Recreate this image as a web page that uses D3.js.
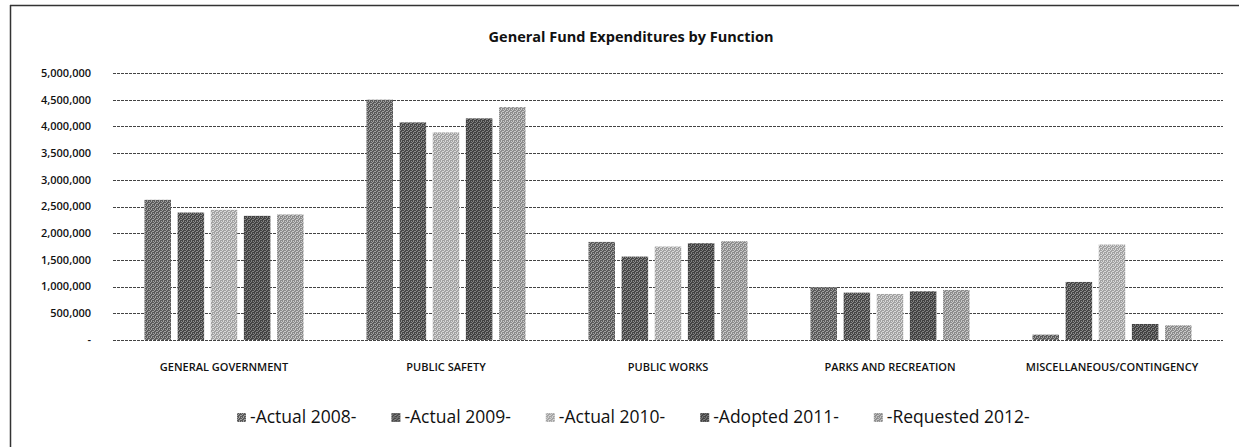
<!DOCTYPE html>
<html>
<head>
<meta charset="utf-8">
<script src="https://cdn.jsdelivr.net/npm/d3@7"></script>
<style>
  body { margin: 0; background: #fff; }
  text { font-family: "Open Sans", sans-serif; fill: #111; }
</style>
</head>
<body>
<div id="chart-area"></div>
<script>
const categories = [
  "GENERAL GOVERNMENT",
  "PUBLIC SAFETY",
  "PUBLIC WORKS",
  "PARKS AND RECREATION",
  "MISCELLANEOUS/CONTINGENCY"
];
const seriesNames = ["-Actual 2008-", "-Actual 2009-", "-Actual 2010-", "-Adopted 2011-", "-Requested 2012-"];
const actual2008 = [2625000, 4500000, 1837000, 987000, 100000];
const actual2009 = [2387000, 4075000, 1562000, 887000, 1087000];
const actual2010 = [2437000, 3887000, 1750000, 862000, 1787000];
const adopted2011 = [2325000, 4150000, 1812000, 912000, 300000];
const requested2012 = [2350000, 4362000, 1850000, 937000, 275000];
const yTicks = [0, 500000, 1000000, 1500000, 2000000, 2500000, 3000000, 3500000, 4000000, 4500000, 5000000];

const series = [actual2008, actual2009, actual2010, adopted2011, requested2012];
// scanned pattern fills: base tone + speckle tone
const tones = [
  ["#5a5a5a", "#a0a0a0"],
  ["#474747", "#8c8c8c"],
  ["#a2a2a2", "#d8d8d8"],
  ["#424242", "#808080"],
  ["#8c8c8c", "#c8c8c8"]
];
// 4x4 speckle mask
const speckle = [[0, 0], [2, 0], [1, 1], [3, 2], [0, 2], [2, 3]];

const W = 1239, H = 447;
const margin = { top: 73, right: 16, bottom: 107, left: 113 };
const width = W - margin.left - margin.right,
  height = H - margin.top - margin.bottom;

const svg = d3.select("#chart-area").append("svg")
  .attr("width", W).attr("height", H);

// patterns
const defs = svg.append("defs");
tones.forEach((t, i) => {
  const p = defs.append("pattern")
    .attr("id", "pat" + i)
    .attr("patternUnits", "userSpaceOnUse")
    .attr("width", 4).attr("height", 4);
  p.append("rect").attr("width", 4).attr("height", 4).attr("fill", t[0]);
  p.selectAll(".s").data(speckle).enter().append("rect")
    .attr("x", d => d[0]).attr("y", d => d[1])
    .attr("width", 1).attr("height", 1).attr("fill", t[1]);
});

// chart frame (top + left edges visible in scan)
svg.append("line").attr("x1", 10).attr("x2", W).attr("y1", 5.5).attr("y2", 5.5)
  .attr("stroke", "#333").attr("stroke-width", 1.5);
svg.append("line").attr("x1", 10.5).attr("x2", 10.5).attr("y1", 5).attr("y2", H)
  .attr("stroke", "#333").attr("stroke-width", 1.5);

svg.append("text")
  .attr("x", 631).attr("y", 42)
  .attr("text-anchor", "middle")
  .attr("font-size", "14.5px").attr("font-weight", "bold")
  .text("General Fund Expenditures by Function");

const g = svg.append("g")
  .attr("transform", "translate(" + margin.left + "," + margin.top + ")");

const x0 = d3.scaleBand().domain(categories).range([0, width]);
const x1 = d3.scaleBand().domain(d3.range(series.length))
  .range([31.5, x0.bandwidth() - 31.5]).paddingInner(0.2);
const y = d3.scaleLinear().domain([0, 5000000]).range([height, 0]);

// gridlines
g.append("g").selectAll("line").data(yTicks).enter().append("line")
  .attr("x1", 0).attr("x2", width)
  .attr("y1", d => Math.round(y(d)) + 0.5).attr("y2", d => Math.round(y(d)) + 0.5)
  .attr("stroke", "#444").attr("stroke-width", 1)
  .attr("stroke-dasharray", "3,1");

// y axis labels
const fmt = d3.format(",");
g.append("g").selectAll("text").data(yTicks).enter().append("text")
  .attr("x", -22).attr("y", d => y(d))
  .attr("dy", "0.35em")
  .attr("text-anchor", "end")
  .attr("font-size", "11px").attr("font-weight", 600)
  .text(d => d === 0 ? "-" : fmt(d));

// bars
const groups = g.selectAll(".grp").data(categories).enter().append("g")
  .attr("class", "grp")
  .attr("transform", d => "translate(" + x0(d) + ",0)");

groups.selectAll("rect")
  .data((d, ci) => series.map((s, si) => ({ si: si, v: s[ci] })))
  .enter().append("rect")
  .attr("x", d => x1(d.si))
  .attr("y", d => y(d.v))
  .attr("width", x1.bandwidth())
  .attr("height", d => height - y(d.v))
  .attr("fill", d => "url(#pat" + d.si + ")");

// category labels
g.append("g").selectAll("text").data(categories).enter().append("text")
  .attr("x", d => x0(d) + x0.bandwidth() / 2)
  .attr("y", height + 31)
  .attr("text-anchor", "middle")
  .attr("font-size", "11px").attr("font-weight", 600)
  .text(d => d);

// legend
const legend = svg.append("g").attr("transform", "translate(237,417)");
let lx = 0;
seriesNames.forEach((name, i) => {
  const item = legend.append("g").attr("transform", "translate(" + lx + ",0)");
  item.append("rect").attr("x", 0).attr("y", -4).attr("width", 9).attr("height", 9)
    .attr("fill", "url(#pat" + i + ")");
  const t = item.append("text").attr("x", 13).attr("dy", "0.35em")
    .attr("font-size", "17.5px").text(name);
  lx += 13 + t.node().getComputedTextLength() + 35;
});
</script>
</body>
</html>
